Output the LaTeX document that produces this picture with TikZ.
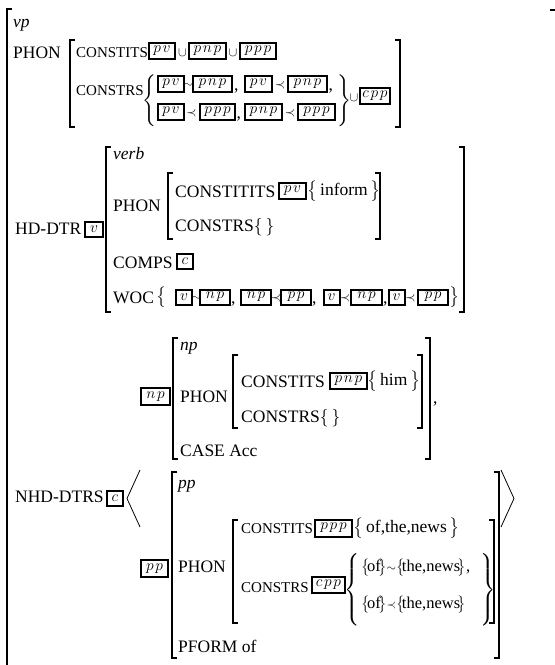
\RequirePackage{fix-cm}
\documentclass[tikz,border=0pt]{standalone}
\usepackage{amsmath}
\usepackage{fontspec}
\setmainfont{Liberation Serif}
\newcommand\fsN{\fontsize{17.5}{20}\selectfont}
\newcommand\fsS{\fontsize{15}{17}\selectfont}
\newcommand\fsR{\fontsize{16.5}{19}\selectfont}
\newcommand\LBr[3]{\draw[brk] (#1+5,#2) -- (#1,#2) -- (#1,#3) -- (#1+5,#3);}
\newcommand\RBr[3]{\draw[brk] (#1-5,#2) -- (#1,#2) -- (#1,#3) -- (#1-5,#3);}
\newcommand\BigL[1]{$\left\{\vcenter{\hrule height #1 width 0pt}\right.$}
\newcommand\BigR[1]{$\left.\vcenter{\hrule height #1 width 0pt}\right\}$}
\newcommand\sbl{{\fsS$\big\{\!$}}
\newcommand\sbr{{\fsS$\!\big\}$}}
\tikzset{
  lbl/.style={anchor=base west, inner sep=0pt, font=\fsN},
  slbl/.style={anchor=base west, inner sep=0pt, font=\fsS},
  ilbl/.style={anchor=base west, inner sep=0pt, font=\fsN\itshape},
  tagb/.style={draw, line width=2pt, inner sep=0pt, minimum height=16pt, font=\fontsize{15.5}{17}\selectfont},
  sym/.style={inner sep=0pt, font=\fsN},
  rel/.style={inner sep=0pt, font=\fontsize{13}{15}\selectfont},
  rowt/.style={inner sep=0pt, anchor=west, font=\fsR},
  brk/.style={line width=1.2pt},
  ang/.style={line width=0.8pt},
}
\begin{document}
\begin{tikzpicture}[x=1pt,y=-1pt]
\useasboundingbox (0,0) rectangle (555,665);
% outer brackets
\draw[brk] (12,9) -- (7,9) -- (7,680);
\draw[brk] (550,10) -- (555.5,10) -- (555.5,680);
% ===== top =====
\node[ilbl] (vp) at (13,27) {vp};
\node[lbl] (phon1) at (13,58) {PHON};
\LBr{70}{40}{127} \RBr{400}{40}{127}
\node[slbl] (cs1) at (76,57) {CONSTITS};
\node[tagb,minimum width=26pt] (t1) at (162,50.5) {$p\mkern2mu v$};
\node[rel] (u1) at (182.5,53) {$\cup$};
\node[tagb,minimum width=37pt] (t2) at (207.5,50.5) {$p\mkern2mu n\mkern2mu p$};
\node[rel] (u2) at (233,53) {$\cup$};
\node[tagb,minimum width=36pt] (t3) at (258,50.5) {$p\mkern2mu p\mkern2mu p$};
\node[slbl] (cr1) at (76,95) {CONSTRS};
\node[sym] (lb1) at (150,101) {\BigL{50pt}};
\node[tagb,minimum width=26pt] (t4) at (171,84) {$p\mkern2mu v$};
\node[rel,font=\fontsize{11}{13}\selectfont] (s1) at (188.5,85) {$\sim$};
\node[tagb,minimum width=39pt] (t5) at (212.5,84) {$p\mkern2mu n\mkern2mu p$};
\node[lbl] (c1) at (234,90) {,};
\node[tagb,minimum width=27pt] (t6) at (258.5,84) {$p\mkern2mu v$};
\node[rel] (s2) at (280,85) {$\prec$};
\node[tagb,minimum width=39pt] (t7) at (307.5,84) {$p\mkern2mu n\mkern2mu p$};
\node[lbl] (c2) at (328.5,90) {,};
\node[tagb,minimum width=26pt] (t8) at (171,112) {$p\mkern2mu v$};
\node[rel] (s3) at (191.5,113) {$\prec$};
\node[tagb,minimum width=35pt] (t9) at (217.5,112) {$p\mkern2mu p\mkern2mu p$};
\node[lbl] (c3) at (236.5,118) {,};
\node[tagb,minimum width=37pt] (t10) at (263.5,112) {$p\mkern2mu n\mkern2mu p$};
\node[rel] (s4) at (290,113) {$\prec$};
\node[tagb,minimum width=37pt] (t11) at (316.5,112) {$p\mkern2mu p\mkern2mu p$};
\node[sym] (rb1) at (343.5,101) {\BigR{50pt}};
\node[rel] (u3) at (354,98) {$\cup$};
\node[tagb,minimum width=30pt] (t12) at (375,95.5) {$c\mkern2mu p\mkern2mu p$};
% ===== HD-DTR =====
\node[lbl] (hd) at (15,234) {HD-DTR};
\node[tagb,minimum width=18pt,minimum height=15pt] (tv) at (94,229.5) {$v$};
\LBr{106}{147}{312} \RBr{464}{147}{312}
\node[ilbl] (verb) at (113,159) {verb};
\node[lbl] (phon2) at (113,211) {PHON};
\LBr{168}{173}{239} \RBr{380}{173}{239}
\node[lbl] (cs2) at (175,197) {CONSTITITS};
\node[tagb,minimum width=27pt] (t13) at (292.5,190.5) {$p\mkern2mu v$};
\node[sym,anchor=west] (inf) at (307,191) {$\big\{$\,inform\,$\big\}$};
\node[lbl] (cr2) at (175,231) {CONSTRS$\{\,\}$};
\node[lbl] (comps) at (113,268) {COMPS};
\node[tagb,minimum width=16pt,minimum height=15pt] (tc1) at (185,261) {$c$};
\node[lbl] (woc) at (113,303) {WOC};
\node[sym,anchor=west] (wl) at (156,297) {$\big\{$};
\node[tagb,minimum width=16pt,minimum height=15pt] (w1) at (184,297) {$v$};
\node[rel,font=\fontsize{11}{13}\selectfont] (ws1) at (196.5,298) {$\sim$};
\node[tagb,minimum width=30pt,minimum height=15pt] (w2) at (215,297) {$n\mkern2mu p$};
\node[lbl] (wc1) at (231,303) {,};
\node[tagb,minimum width=30pt,minimum height=15pt] (w3) at (256,297) {$n\mkern2mu p$};
\node[rel] (ws2) at (276,298) {$\prec$};
\node[tagb,minimum width=30pt,minimum height=15pt] (w4) at (296,297) {$p\mkern2mu p$};
\node[lbl] (wc2) at (312,303) {,};
\node[tagb,minimum width=16pt,minimum height=15pt] (w5) at (331.5,297) {$v$};
\node[rel] (ws3) at (345,298) {$\prec$};
\node[tagb,minimum width=31pt,minimum height=15pt] (w6) at (366.5,297) {$n\mkern2mu p$};
\node[lbl] (wc3) at (383,303) {,};
\node[tagb,minimum width=16pt,minimum height=15pt] (w7) at (396.5,297) {$v$};
\node[rel] (ws4) at (410.5,298) {$\prec$};
\node[tagb,minimum width=30pt,minimum height=15pt] (w8) at (433,297) {$p\mkern2mu p$};
\node[sym,anchor=west] (wr) at (449,297) {$\big\}$};
% ===== np =====
\node[tagb,minimum width=29pt,minimum height=17pt] (tnp) at (155.5,396.5) {$n\mkern2mu p$};
\LBr{173}{338}{459} \RBr{430}{338}{459}
\node[ilbl] (np) at (180,350) {np};
\node[lbl] (phon3) at (180,402) {PHON};
\LBr{233}{355}{428} \RBr{422}{355}{428}
\node[lbl] (cs3) at (241,387) {CONSTITS};
\node[tagb,minimum width=37pt] (t14) at (348.5,381) {$p\mkern2mu n\mkern2mu p$};
\node[sym,anchor=west] (him) at (367,381) {$\big\{$\,him\,$\big\}$};
\node[lbl] (cr3) at (241,422) {CONSTRS$\{\,\}$};
\node[lbl] (case) at (180,456) {CASE Acc};
\node[lbl] (comma) at (433,403) {,};
% ===== NHD-DTRS =====
\node[lbl] (nhd) at (15,502) {NHD-DTRS};
\node[tagb,minimum width=16pt,minimum height=15pt] (tc2) at (115,498.5) {$c$};
\coordinate (la1) at (140,470); \coordinate (la2) at (127,498.5); \coordinate (la3) at (140,527);
\draw[ang] (la1) -- (la2) -- (la3);
\coordinate (ra1) at (501,470); \coordinate (ra2) at (514,498.5); \coordinate (ra3) at (501,527);
\draw[ang] (ra1) -- (ra2) -- (ra3);
\LBr{172}{472}{658} \RBr{499}{472}{658}
\node[ilbl] (pp) at (178,488) {pp};
\LBr{233}{520}{623} \RBr{494}{520}{623}
\node[slbl] (cs4) at (241,533) {CONSTITS};
\node[tagb,minimum width=37pt,minimum height=17pt] (t15) at (333.5,528) {$p\mkern2mu p\mkern2mu p$};
\node[sym,anchor=west] (oftn) at (353,528) {$\big\{$\,of,the,news\,$\big\}$};
\node[lbl] (phon4) at (178,572) {PHON};
\node[tagb,minimum width=27pt,minimum height=17pt] (tpp) at (154.5,568.5) {$p\mkern2mu p$};
\node[slbl] (cr4) at (241,592) {CONSTRS};
\node[tagb,minimum width=33pt] (t16) at (328.5,585) {$c\mkern2mu p\mkern2mu p$};
\node[sym] (lb2) at (353,590) {\BigL{72pt}};
\node[rowt] (r1) at (361,568) {\sbl of\sbr{\fontsize{12}{14}\selectfont$\sim$}\sbl the,news\sbr,};
\node[rowt] (r2) at (361,605) {\sbl of\sbr{\fontsize{12}{14}\selectfont$\prec$}\sbl the,news\sbr};
\node[sym] (rb2) at (487.5,590) {\BigR{72pt}};
\node[lbl] (pform) at (178,652) {PFORM of};
\end{tikzpicture}
\end{document}
